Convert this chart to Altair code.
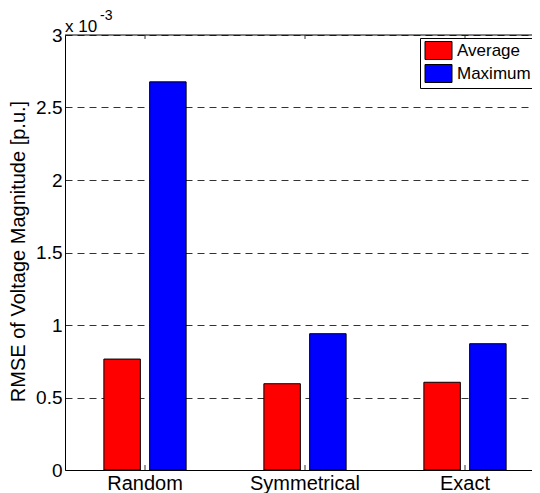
import altair as alt
import pandas as pd

# ---- data ----
categories = ["Random", "Symmetrical", "Exact"]
series = ["Average", "Maximum"]
average = [0.765e-3, 0.595e-3, 0.605e-3]
maximum = [2.677e-3, 0.940e-3, 0.871e-3]
colors = ["#ff0000", "#0000ff"]
y_ticks = [0, 0.0005, 0.001, 0.0015, 0.002, 0.0025, 0.003]
y_title = "RMSE of Voltage Magnitude [p.u.]"
exp_base = ["x 10"]
exp_power = ["-3"]

rows = []
for c, a, m in zip(categories, average, maximum):
    rows.append({"category": c, "series": series[0], "value": a})
    rows.append({"category": c, "series": series[1], "value": m})
df = pd.DataFrame(rows)
cat_df = pd.DataFrame({"category": categories})

W, H = 467, 435
FONT = "Liberation Sans"

xscale = alt.Scale(domain=categories, range=[0, 480], paddingInner=0.486, paddingOuter=0.243)
x_axis = alt.Axis(title=None, labelAngle=0, ticks=False, labelFontSize=20, labelPadding=19,
                  labelBaseline="alphabetic", domainColor="black", domainWidth=1,
                  labelColor="black", labelFont=FONT, grid=False)
x_enc = alt.X("category:N", scale=xscale, sort=categories, axis=x_axis)

bars = alt.Chart(df).mark_bar(stroke="black", strokeWidth=1).encode(
    x=x_enc,
    xOffset=alt.XOffset("series:N", sort=series, scale=alt.Scale(paddingInner=0.203, paddingOuter=0)),
    y=alt.Y("value:Q", scale=alt.Scale(domain=[0, 0.003], nice=False),
            axis=alt.Axis(values=y_ticks, labelExpr="format(datum.value*1000, '~g')",
                          grid=True, gridDash=[7, 5], gridColor="#333333", gridWidth=1,
                          ticks=False, labelPadding=3, labelFontSize=19, labelColor="black",
                          labelFont=FONT, domainColor="black", domainWidth=1,
                          title=y_title, titleFontSize=20, titleFontWeight="normal",
                          titleFont=FONT, titleColor="black",
                          titleX=-41, titleY=216, titleBaseline="alphabetic", titleAngle=-90)),
    color=alt.Color("series:N", sort=series, scale=alt.Scale(domain=series, range=colors),
                    legend=alt.Legend(title=None, orient="none", legendX=355, legendY=3,
                                      symbolType="M-1.5,-1L1.5,-1L1.5,1L-1.5,1Z", symbolSize=324,
                                      symbolStrokeColor="black", symbolStrokeWidth=1,
                                      symbolOffset=6, labelFontSize=17, labelFont=FONT,
                                      labelColor="black", labelOffset=9, padding=3,
                                      rowPadding=0, strokeColor="black", fillColor="white",
                                      cornerRadius=0)),
)

ticks_b = alt.Chart(cat_df).mark_rule(color="#333333", strokeWidth=1).encode(
    x=x_enc, y=alt.value(H), y2=alt.value(H - 5))
ticks_t = alt.Chart(cat_df).mark_rule(color="#333333", strokeWidth=1).encode(
    x=x_enc, y=alt.value(0), y2=alt.value(4))

frame = alt.Chart(pd.DataFrame({"k": [0]})).mark_rule(color="black", strokeWidth=1).encode(
    x=alt.value(0), x2=alt.value(W), y=alt.value(0))

txt_base = alt.Chart(pd.DataFrame({"t": exp_base})).mark_text(
    align="left", baseline="alphabetic", fontSize=17, font=FONT, color="black").encode(
    text="t:N", x=alt.value(0), y=alt.value(-3))
txt_pow = alt.Chart(pd.DataFrame({"t": exp_power})).mark_text(
    align="left", baseline="alphabetic", fontSize=14, font=FONT, color="black").encode(
    text="t:N", x=alt.value(35), y=alt.value(-15))

chart = alt.layer(bars, ticks_b, ticks_t, frame, txt_base, txt_pow).properties(
    width=W, height=H,
    autosize=alt.AutoSizeParams(type="none"),
    padding={"left": 57, "top": 27, "right": 0, "bottom": 23},
).configure(font=FONT).configure_view(stroke=None)

chart.save("out.html", embed_options={"renderer": "svg", "actions": False})
